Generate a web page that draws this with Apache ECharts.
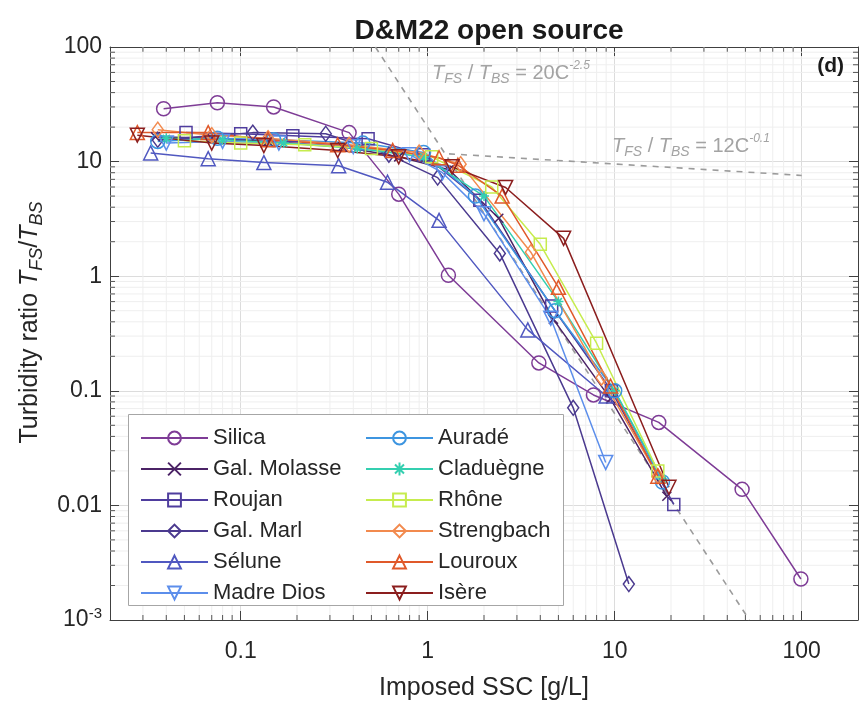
<!DOCTYPE html>
<html><head><meta charset="utf-8">
<script src="https://cdn.jsdelivr.net/npm/echarts@6/dist/echarts.min.js"></script>
<style>html,body{margin:0;padding:0;background:#fff}#c{width:866px;height:718px}</style>
</head><body><div id="c"></div>
<script>
const FONT = "'Liberation Sans', Arial, Helvetica, sans-serif";

// ---- data (SSC [g/L], turbidity ratio) ----
const seriesNames = ['Silica','Gal. Molasse','Roujan','Gal. Marl','Sélune','Madre Dios','Auradé','Claduègne','Rhône','Strengbach','Louroux','Isère'];
const silica     = [[0.0387,28.9],[0.075,32.6],[0.15,30],[0.38,17.9],[0.70,5.2],[1.29,1.02],[3.93,0.175],[7.7,0.092],[17.2,0.053],[48,0.0138],[99,0.00228]];
const galMolasse = [[0.035,16.5],[0.07,16],[0.14,15],[0.35,13.5],[0.7,11],[1.3,8.5],[2.4,3.2],[4.7,0.42],[9.5,0.085],[19,0.012]];
const roujan     = [[0.051,17.9],[0.1,17.5],[0.19,16.8],[0.48,15.8],[0.95,11.5],[1.9,4.6],[4.6,0.55],[9.6,0.1],[20.7,0.0102]];
const galMarl    = [[0.036,15.5],[0.116,17.9],[0.285,17.5],[0.62,11.5],[1.13,7.25],[2.43,1.58],[6.0,0.071],[11.9,0.00206]];
const selune     = [[0.033,11.9],[0.067,10.6],[0.133,9.8],[0.334,9.2],[0.61,6.6],[1.15,3.07],[3.43,0.34],[9.0,0.09]];
const madreDios  = [[0.04,14.5],[0.08,15],[0.16,14.5],[0.4,13.5],[0.8,11.5],[1.2,8],[2.0,3.5],[4.55,0.43],[8.95,0.0237]];
const aurade     = [[0.036,15],[0.075,16],[0.15,15.5],[0.45,14.5],[0.95,12],[1.8,5],[4.8,0.5],[10,0.1],[18,0.016]];
const cladiegne  = [[0.04,16],[0.08,15.5],[0.17,14.5],[0.42,13],[0.95,11],[2.0,5],[5,0.6],[10,0.1],[18,0.017]];
const rhone      = [[0.05,15.2],[0.1,14.5],[0.22,14],[0.5,13],[1.05,11],[2.2,6],[4.0,1.9],[8,0.26],[17,0.02]];
const strengbach = [[0.036,19],[0.07,17],[0.14,16],[0.38,14],[0.9,12],[1.5,9.5],[3.56,1.62],[8.5,0.13],[17,0.018]];
const louroux    = [[0.028,17.9],[0.067,17.9],[0.14,15.5],[0.33,14],[0.65,12.5],[1.15,10.8],[1.45,9.3],[2.5,5],[5,0.8],[9.5,0.11],[17,0.018]];
const isere      = [[0.028,17],[0.07,14.5],[0.133,13.8],[0.33,12.5],[0.7,11],[1.35,9],[2.61,5.95],[5.33,2.14],[19.5,0.0144]];
const seriesData = [silica,galMolasse,roujan,galMarl,selune,madreDios,aurade,cladiegne,rhone,strengbach,louroux,isere];

// fitted reference lines (endpoints)
const fitSteep   = [[0.525,100],[52.5,0.001]];   // 20 C^-2.5
const fitShallow = [[1.3,11.69],[100,7.57]];     // 12 C^-0.1

// axes
const xMin = 0.02, xMax = 200, yMin = 0.001, yMax = 100;
const xTickLabels = {'-1':'0.1','0':'1','1':'10','2':'100'};
const yTickLabels = {'2':'100','1':'10','0':'1','-1':'0.1','-2':'0.01','-3':'{b|10}{s|-3}'};
const xMinor = [0.03,0.04,0.05,0.06,0.07,0.08,0.09,0.2,0.3,0.4,0.5,0.6,0.7,0.8,0.9,2,3,4,5,6,7,8,9,20,30,40,50,60,70,80,90];
const yMinor = [0.002,0.003,0.004,0.005,0.006,0.007,0.008,0.009,0.02,0.03,0.04,0.05,0.06,0.07,0.08,0.09,0.2,0.3,0.4,0.5,0.6,0.7,0.8,0.9,2,3,4,5,6,7,8,9,20,30,40,50,60,70,80,90];

// ---- styles ----
const colors  = ['#7E3C96','#4B2366','#4F3D9E','#4B3A8F','#5058C0','#5C8EEB','#3D95E0','#34CFB0','#C6EC4E','#F28A4E','#E0592A','#8B1E1E'];
const XSYM = 'path://M0,0L10,10M0,10L10,0';
const ASYM = 'path://M5,0L5,10M0,5L10,5M1.5,1.5L8.5,8.5M1.5,8.5L8.5,1.5';
const symbols = ['circle',XSYM,'rect','diamond','triangle','triangle','circle',ASYM,'rect','diamond','triangle','triangle'];
const rotates = [0,0,0,0,0,180,0,0,0,0,0,180];
const sizes   = [14,9,12,[11,15],14,14,14,10,12,[11,15],14,14];

function logKey(v){ const l = Math.log10(v); const r = Math.round(l); return Math.abs(l-r) < 1e-6 ? String(r) : null; }

const dataSeries = seriesNames.map((n,i)=>({
  name:n, type:'line', data:seriesData[i], z:3,
  symbol:symbols[i], symbolSize:sizes[i], symbolRotate:rotates[i], showAllSymbol:true,
  lineStyle:{color:colors[i], width:1.5},
  itemStyle:{color:'rgba(255,255,255,0)', borderColor:colors[i], borderWidth:1.5},
  emphasis:{disabled:true}, animation:false
}));

const refStyle = {color:'#9b9b9b', width:1.6, type:[6,6]};
const refSeries = [
  {name:'fitSteep', type:'line', data:fitSteep, symbol:'none', lineStyle:refStyle, z:2, silent:true, animation:false},
  {name:'fitShallow', type:'line', data:fitShallow, symbol:'none', lineStyle:refStyle, z:2, silent:true, animation:false}
];

const minorX = {
  type:'custom', data:xMinor.map(v=>[v,1]), z:1, silent:true, animation:false,
  renderItem:(p,api)=>{ const x=api.value(0); const t=api.coord([x,yMax]), b=api.coord([x,yMin]);
    return {type:'group', children:[
      {type:'line', shape:{x1:t[0],y1:t[1],x2:b[0],y2:b[1]}, style:{stroke:'#efefef',lineWidth:1}},
      {type:'line', shape:{x1:b[0],y1:b[1],x2:b[0],y2:b[1]-5}, style:{stroke:'#555',lineWidth:1}},
      {type:'line', shape:{x1:t[0],y1:t[1],x2:t[0],y2:t[1]+5}, style:{stroke:'#555',lineWidth:1}}]};}
};
const minorY = {
  type:'custom', data:yMinor.map(v=>[1,v]), z:1, silent:true, animation:false,
  renderItem:(p,api)=>{ const y=api.value(1); const l=api.coord([xMin,y]), r=api.coord([xMax,y]);
    return {type:'group', children:[
      {type:'line', shape:{x1:l[0],y1:l[1],x2:r[0],y2:r[1]}, style:{stroke:'#efefef',lineWidth:1}},
      {type:'line', shape:{x1:l[0],y1:l[1],x2:l[0]+5,y2:l[1]}, style:{stroke:'#555',lineWidth:1}},
      {type:'line', shape:{x1:r[0],y1:r[1],x2:r[0]-5,y2:r[1]}, style:{stroke:'#555',lineWidth:1}}]};}
};

const axisLineStyle = {show:true, lineStyle:{color:'#404040', width:1}};
const tickStyle = {show:true, inside:true, length:9, lineStyle:{color:'#404040'}};
const splitStyle = {show:true, lineStyle:{color:'#dcdcdc', width:1}};

const subRich = {
  i:{fontStyle:'italic', fontSize:25, fontFamily:FONT, color:'#262626', lineHeight:32},
  s:{fontStyle:'italic', fontSize:18, fontFamily:FONT, color:'#262626', verticalAlign:'bottom', lineHeight:20},
  n:{fontSize:25, fontFamily:FONT, color:'#262626', lineHeight:32}
};
const annRich = {
  i:{fontStyle:'italic', fontSize:20, fontFamily:FONT, fill:'#a3a3a3', lineHeight:26},
  s:{fontStyle:'italic', fontSize:14, fontFamily:FONT, fill:'#a3a3a3', verticalAlign:'bottom', lineHeight:15},
  p:{fontStyle:'italic', fontSize:12, fontFamily:FONT, fill:'#a3a3a3', verticalAlign:'top', lineHeight:14},
  n:{fontSize:20, fontFamily:FONT, fill:'#a3a3a3', lineHeight:26}
};

const option = {
  backgroundColor:'#fff',
  animation:false,
  title:{text:'D&M22 open source', left:484, top:12, textAlign:'center',
    textStyle:{fontSize:28, fontWeight:'bold', fontFamily:FONT, color:'#1a1a1a'}},
  grid:{left:110, right:8, top:47, bottom:98, containLabel:false},
  xAxis:[
    {type:'log', min:xMin, max:xMax, position:'bottom',
     axisLine:axisLineStyle, axisTick:tickStyle, splitLine:splitStyle,
     axisLabel:{fontSize:23, fontFamily:FONT, color:'#262626', margin:20, showMinLabel:false, showMaxLabel:false,
       formatter:v=>{const k=logKey(v); return k!==null && xTickLabels[k] ? xTickLabels[k] : '';}},
     name:'Imposed SSC [g/L]', nameLocation:'middle', nameGap:56,
     nameTextStyle:{fontSize:25, fontFamily:FONT, color:'#262626'}},
    {type:'log', min:xMin, max:xMax, position:'top',
     axisLine:axisLineStyle, axisTick:tickStyle, splitLine:{show:false}, axisLabel:{show:false}}
  ],
  yAxis:[
    {type:'log', min:yMin, max:yMax, position:'left',
     axisLine:axisLineStyle, axisTick:tickStyle, splitLine:splitStyle,
     axisLabel:{fontSize:23, fontFamily:FONT, color:'#262626', margin:8,
       formatter:v=>{const k=logKey(v); return k!==null && yTickLabels[k] ? yTickLabels[k] : '';},
       rich:{b:{fontSize:23, fontFamily:FONT, color:'#262626', lineHeight:28},
             s:{fontSize:15, fontFamily:FONT, color:'#262626', verticalAlign:'top', lineHeight:16}}},
     name:'Turbidity ratio {i|T}{s|FS}{n|/}{i|T}{s|BS}', nameLocation:'middle', nameGap:48, nameRotate:90,
     nameTextStyle:{fontSize:25, fontFamily:FONT, color:'#262626', lineHeight:32, padding:[0,0,0,22], rich:subRich}},
    {type:'log', min:yMin, max:yMax, position:'right',
     axisLine:axisLineStyle, axisTick:tickStyle, splitLine:{show:false}, axisLabel:{show:false}}
  ],
  legend:[
    {orient:'vertical', left:135, top:422, itemGap:9, itemWidth:67, itemHeight:16, z:10,
     data:seriesNames.slice(0,6), selectedMode:false,
     textStyle:{fontSize:22, lineHeight:22, fontFamily:FONT, color:'#262626'}},
    {orient:'vertical', left:360, top:422, itemGap:9, itemWidth:67, itemHeight:16, z:10,
     data:seriesNames.slice(6), selectedMode:false,
     textStyle:{fontSize:22, lineHeight:22, fontFamily:FONT, color:'#262626'}}
  ],
  graphic:{elements:[
    {type:'rect', left:128, top:414, z:8, shape:{width:435, height:191},
     style:{fill:'#fff', stroke:'#a6a6a6', lineWidth:1}},
    {type:'text', left:432, top:60, z:9, style:{
      text:'{i|T}{s|FS}{n| / }{i|T}{s|BS}{n| = 20C}{p|-2.5}', rich:annRich}},
    {type:'text', left:612, top:133, z:9, style:{
      text:'{i|T}{s|FS}{n| / }{i|T}{s|BS}{n| = 12C}{p|-0.1}', rich:annRich}},
    {type:'text', right:22, top:56, z:9, style:{
      text:'(d)', font:'bold 21px '+FONT, fill:'#1a1a1a'}}
  ]},
  series:[minorX, minorY, ...refSeries, ...dataSeries]
};

const chart = echarts.init(document.getElementById('c'), null, {renderer:'canvas'});
chart.setOption(option);
</script></body></html>
